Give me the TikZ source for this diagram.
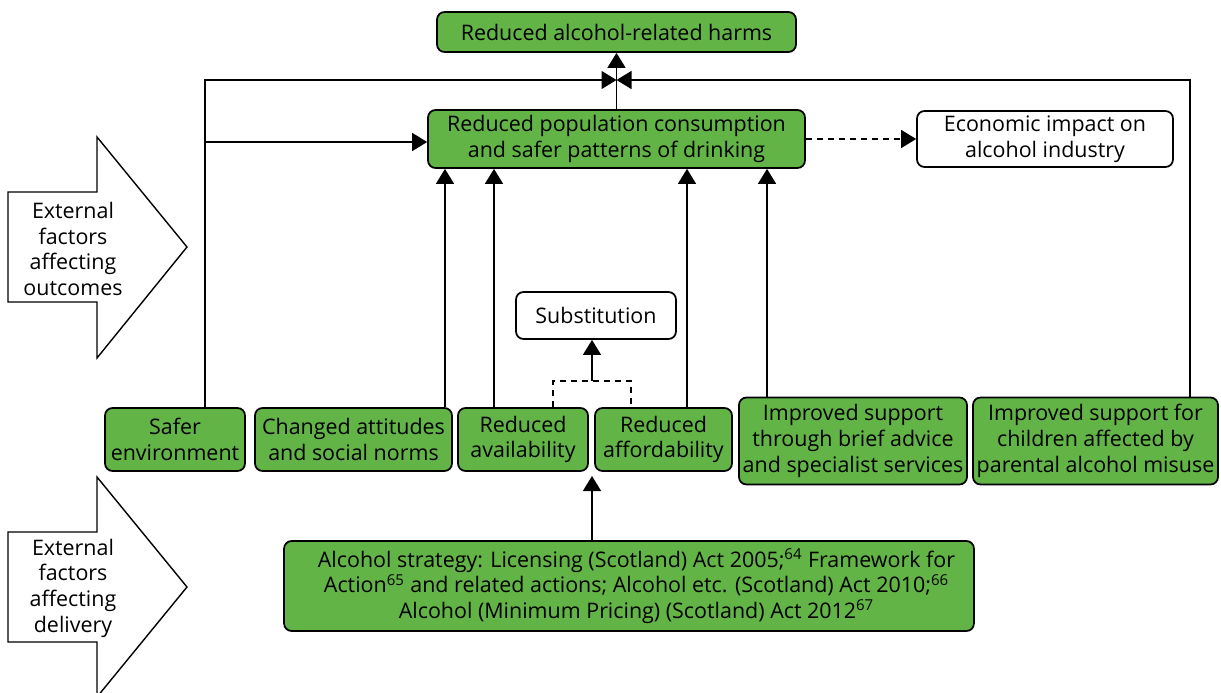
\documentclass[tikz,border=0pt]{standalone}
\usepackage{fontspec}
\setmainfont{Open Sans}
\usetikzlibrary{arrows.meta}
\definecolor{boxgreen}{RGB}{98,180,70}

\begin{document}
\begin{tikzpicture}
  [
    x = 0.02cm, y = -0.02cm,
    box/.style = {draw, line width=1pt, rounded corners=0.15cm, align=center, inner sep=0pt,
                  font=\fontsize{12.2}{14.6}\selectfont},
    greenbox/.style = {box, fill=boxgreen},
    whitebox/.style = {box, fill=white},
    link/.style = {line width=0.8pt, -{Triangle[length=0.3cm,width=0.36cm]}},
    bigarrow/.style = {draw, line width=0.8pt, fill=white},
    sidelabel/.style = {align=center, font=\fontsize{12.2}{14.6}\selectfont},
  ]

  \useasboundingbox (0,0) rectangle (1221,693);

  % outcome and effects
  \node[greenbox, minimum width=7.18cm, minimum height=0.8cm] (harms) at (616.5,32) {Reduced alcohol-related harms};
  \node[greenbox, minimum width=7.54cm, minimum height=1.16cm] (popn) at (616.5,139) {Reduced population consumption\\and safer patterns of drinking};
  \node[whitebox, minimum width=5.12cm, minimum height=1.12cm] (econ) at (1045,139) {Economic impact on\\alcohol industry};
  \node[whitebox, minimum width=3.2cm, minimum height=0.94cm] (subst) at (596,315.5) {Substitution};

  % intermediate outcomes
  \node[greenbox, minimum width=2.8cm, minimum height=1.26cm] (safer) at (175,439.5) {Safer\\environment};
  \node[greenbox, minimum width=3.94cm, minimum height=1.26cm] (norms) at (353.5,439.5) {Changed attitudes\\and social norms};
  \node[greenbox, minimum width=2.6cm, minimum height=1.26cm] (avail) at (523,439.5) {Reduced\\availability};
  \node[greenbox, minimum width=2.74cm, minimum height=1.26cm] (afford) at (663.5,439.5) {Reduced\\affordability};
  \node[greenbox, minimum width=4.56cm, minimum height=1.74cm] (advice) at (853,441) {Improved support\\through brief advice\\and specialist services};
  \node[greenbox, minimum width=4.9cm, minimum height=1.74cm] (children) at (1095.5,441) {Improved support for\\children affected by\\parental alcohol misuse};

  % strategy
  \node[greenbox, minimum width=13.8cm, minimum height=1.8cm] (strategy) at (629,586)
    {\hspace{0.3cm}Alcohol strategy: Licensing (Scotland) Act 2005;\textsuperscript{64} Framework for\\
     \hspace{0.3cm}Action\textsuperscript{65} and related actions; Alcohol etc. (Scotland) Act 2010;\textsuperscript{66}\\
     \hspace{0.3cm}Alcohol (Minimum Pricing) (Scotland) Act 2012\textsuperscript{67}};

  % external factors
  \draw[bigarrow] (8,192) -- (97,192) -- (97,137) -- (187,247) -- (97,358) -- (97,302) -- (8,302) -- cycle;
  \node[sidelabel] (outcomes) at (73,249) {External\\factors\\affecting\\outcomes};
  \draw[bigarrow] (8,532) -- (97,532) -- (97,477) -- (187,587) -- (97,697) -- (97,642) -- (8,642) -- cycle;
  \node[sidelabel] (delivery) at (73,588) {External\\factors\\affecting\\delivery};

  \coordinate (junction) at (616.5,80);
  \coordinate (trunk) at (205,142);
  \coordinate (subjoin) at (592,381);
  \coordinate (stratend) at (592,476);

  % links
  \draw[link] (popn.north) -- (harms.south);
  \draw[link] ([xshift=0.6cm]safer.north) |- (junction);
  \draw[link] ([xshift=1.89cm]children.north) |- (junction);
  \draw[link] (trunk) -- (trunk -| popn.west);
  \draw[link, dash pattern=on 0.12cm off 0.1cm] (popn.east) -- (econ.west);
  \draw[link] ([xshift=1.83cm]norms.north) -- ([xshift=1.83cm]norms.north |- popn.south);
  \draw[link] ([xshift=-0.58cm]avail.north) -- ([xshift=-0.58cm]avail.north |- popn.south);
  \draw[link] ([xshift=0.47cm]afford.north) -- ([xshift=0.47cm]afford.north |- popn.south);
  \draw[link] ([xshift=-1.72cm]advice.north) -- ([xshift=-1.72cm]advice.north |- popn.south);
  \draw[line width=0.8pt, dash pattern=on 0.12cm off 0.1cm] ([xshift=0.6cm]avail.north) |- (subjoin) -| ([xshift=-0.65cm]afford.north);
  \draw[link] (subjoin) -- (subjoin |- subst.south);
  \draw[link] (stratend |- strategy.north) -- (stratend);
\end{tikzpicture}
\end{document}
